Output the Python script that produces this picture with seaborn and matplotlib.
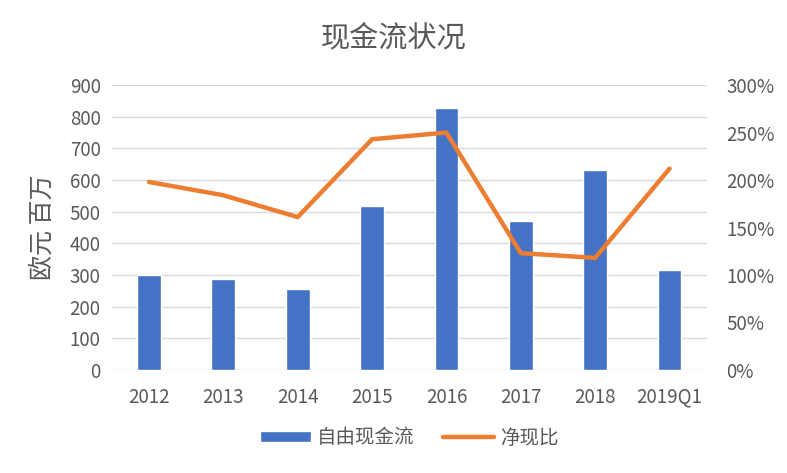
import numpy as np
import pandas as pd
import matplotlib
matplotlib.use("Agg")
import matplotlib.pyplot as plt
import seaborn as sns
from matplotlib.patches import Patch
from matplotlib.lines import Line2D
from matplotlib.ticker import FuncFormatter

years = ["2012", "2013", "2014", "2015", "2016", "2017", "2018", "2019Q1"]
free_cash_flow = [300, 288, 257, 518, 827, 471, 632, 316]
cash_ratio = [1.98, 1.84, 1.61, 2.43, 2.50, 1.23, 1.18, 2.12]

sns.set_theme(style="white")
plt.rcParams["font.family"] = ["Noto Sans CJK SC", "DejaVu Sans"]

blue = "#4472C4"
orange = "#ED7D31"
grey = "#595959"

df = pd.DataFrame({"year": years, "fcf": free_cash_flow, "ratio": cash_ratio})

fig = plt.figure(figsize=(7.87, 4.73), dpi=100)
ax = fig.add_axes([0.142, 0.218, 0.756, 0.602])

sns.barplot(data=df, x="year", y="fcf", color=blue, width=0.32,
            saturation=1, ax=ax, zorder=2)
ax.set_ylim(0, 900)
ax.set_yticks(range(0, 901, 100))
ax.grid(axis="y", color="#D9D9D9", linewidth=1, zorder=0)
ax.set_axisbelow(True)
ax.set_xlabel("")
ax.set_ylabel("欧元 百万", fontsize=18, color=grey, labelpad=10)
ax.tick_params(axis="both", length=0, labelsize=13.5, colors=grey, pad=8)
ax.tick_params(axis="x", pad=12)
for s in ax.spines.values():
    s.set_visible(False)

ax2 = ax.twinx()
sns.lineplot(x=np.arange(len(years)), y=df["ratio"], color=orange,
             linewidth=3.2, ax=ax2)
ax2.set_ylim(0, 3)
ax2.set_yticks(np.arange(0, 3.01, 0.5))
ax2.yaxis.set_major_formatter(FuncFormatter(lambda v, _: f"{v*100:.0f}%"))
ax2.set_ylabel("")
ax2.tick_params(axis="y", length=0, labelsize=13.5, colors=grey, pad=14)
for s in ax2.spines.values():
    s.set_visible(False)
ax.set_xlim(-0.5, len(years) - 0.5)

fig.suptitle("现金流状况", x=0.5, y=0.95, fontsize=21, color=grey)

handles = [Patch(facecolor=blue, label="自由现金流"),
           Line2D([0], [0], color=orange, linewidth=3.2, label="净现比")]
fig.legend(handles=handles, loc="center", bbox_to_anchor=(0.52, 0.074),
           ncol=2, frameon=False, fontsize=14, labelcolor=grey,
           handlelength=2.6, handleheight=0.5, handletextpad=0.3,
           columnspacing=1.5)

fig.savefig("out.png", dpi=100)
